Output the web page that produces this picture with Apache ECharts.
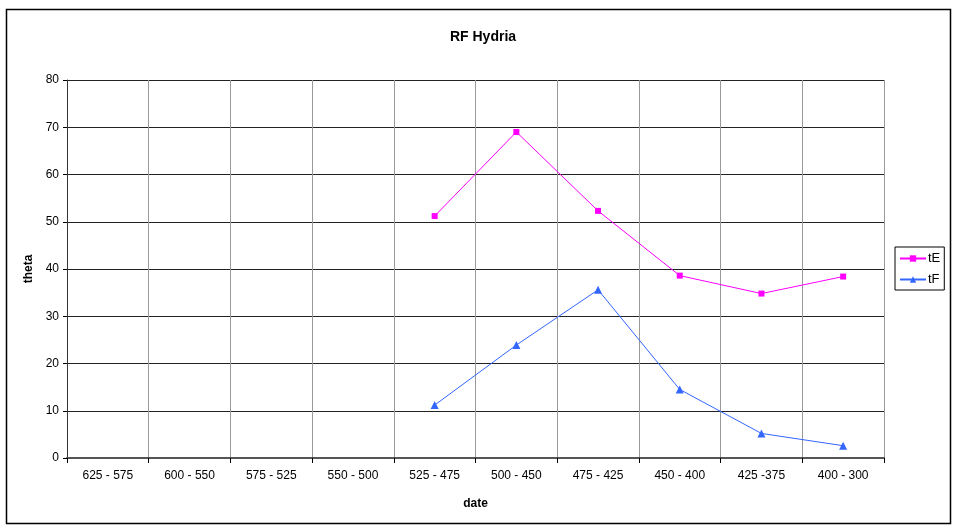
<!DOCTYPE html>
<html>
<head>
<meta charset="utf-8">
<script src="https://cdn.jsdelivr.net/npm/echarts@6/dist/echarts.min.js"></script>
<style>
  html, body { margin: 0; padding: 0; background: #fff; }
  #chart { width: 960px; height: 525px; }
</style>
</head>
<body>
<div id="chart"></div>
<script>
    // data
    var dates = ['625 - 575', '600 - 550', '575 - 525', '550 - 500', '525 - 475',
                 '500 - 450', '475 - 425', '450 - 400', '425 -375', '400 - 300'];
    var tE = [null, null, null, null, 51.2, 69.0, 52.3, 38.6, 34.8, 38.4];
    var tF = [null, null, null, null, 11.2, 23.9, 35.6, 14.5, 5.2, 2.6];

    var font = 'Liberation Sans, Arial, sans-serif';

    var option = {
        animation: false,
        backgroundColor: '#fff',
        textStyle: { fontFamily: font },
        title: {
            text: 'RF Hydria',
            left: 478,
            top: 25,
            textAlign: 'center',
            textStyle: { fontSize: 14, fontWeight: 'bold', color: '#000', fontFamily: font }
        },
        legend: {
            orient: 'vertical',
            left: 895,
            top: 247,
            padding: [5, 4, 4, 4],
            itemGap: 8,
            itemWidth: 26,
            itemHeight: 8,
            borderColor: '#000',
            borderWidth: 1,
            textStyle: { fontSize: 13, color: '#000', padding: [0, 0, 0, -3] },
            data: ['tE', 'tF']
        },
        grid: {
            left: 67,
            right: 76,
            top: 80,
            bottom: 67
        },
        xAxis: {
            type: 'category',
            data: dates,
            name: 'date',
            nameLocation: 'middle',
            nameGap: 40,
            nameTextStyle: { fontWeight: 'bold', fontSize: 12, color: '#000' },
            boundaryGap: true,
            axisLine: { lineStyle: { color: '#555', width: 2 } },
            axisTick: { show: true, length: 5, lineStyle: { color: '#000' } },
            axisLabel: { fontSize: 12, color: '#000', margin: 12 },
            splitLine: { show: true, lineStyle: { color: '#999', width: 1 } }
        },
        yAxis: {
            type: 'value',
            min: 0,
            max: 80,
            interval: 10,
            name: 'theta',
            nameLocation: 'middle',
            nameGap: 31,
            nameTextStyle: { fontWeight: 'bold', fontSize: 12, color: '#000' },
            axisLine: { show: true, lineStyle: { color: '#333', width: 1 } },
            axisTick: { show: true, length: 4, lineStyle: { color: '#000' } },
            axisLabel: { fontSize: 12, color: '#000', margin: 8 },
            splitLine: { show: true, lineStyle: { color: '#222', width: 1 } }
        },
        graphic: [{
            type: 'rect',
            shape: { x: 6.5, y: 9.5, width: 944, height: 514 },
            style: { fill: null, stroke: '#000', lineWidth: 1.5 },
            silent: true,
            z: -1
        }],
        series: [{
            name: 'tE',
            type: 'line',
            data: tE,
            symbol: 'rect',
            symbolSize: 6,
            itemStyle: { color: '#ff00ff' },
            lineStyle: { color: '#ff00ff', width: 1 }
        }, {
            name: 'tF',
            type: 'line',
            data: tF,
            symbol: 'triangle',
            symbolSize: 8,
            itemStyle: { color: '#3366ff' },
            lineStyle: { color: '#3366ff', width: 1 }
        }]
    };

    var chart = echarts.init(document.getElementById('chart'));
    chart.setOption(option);
</script>
</body>
</html>
